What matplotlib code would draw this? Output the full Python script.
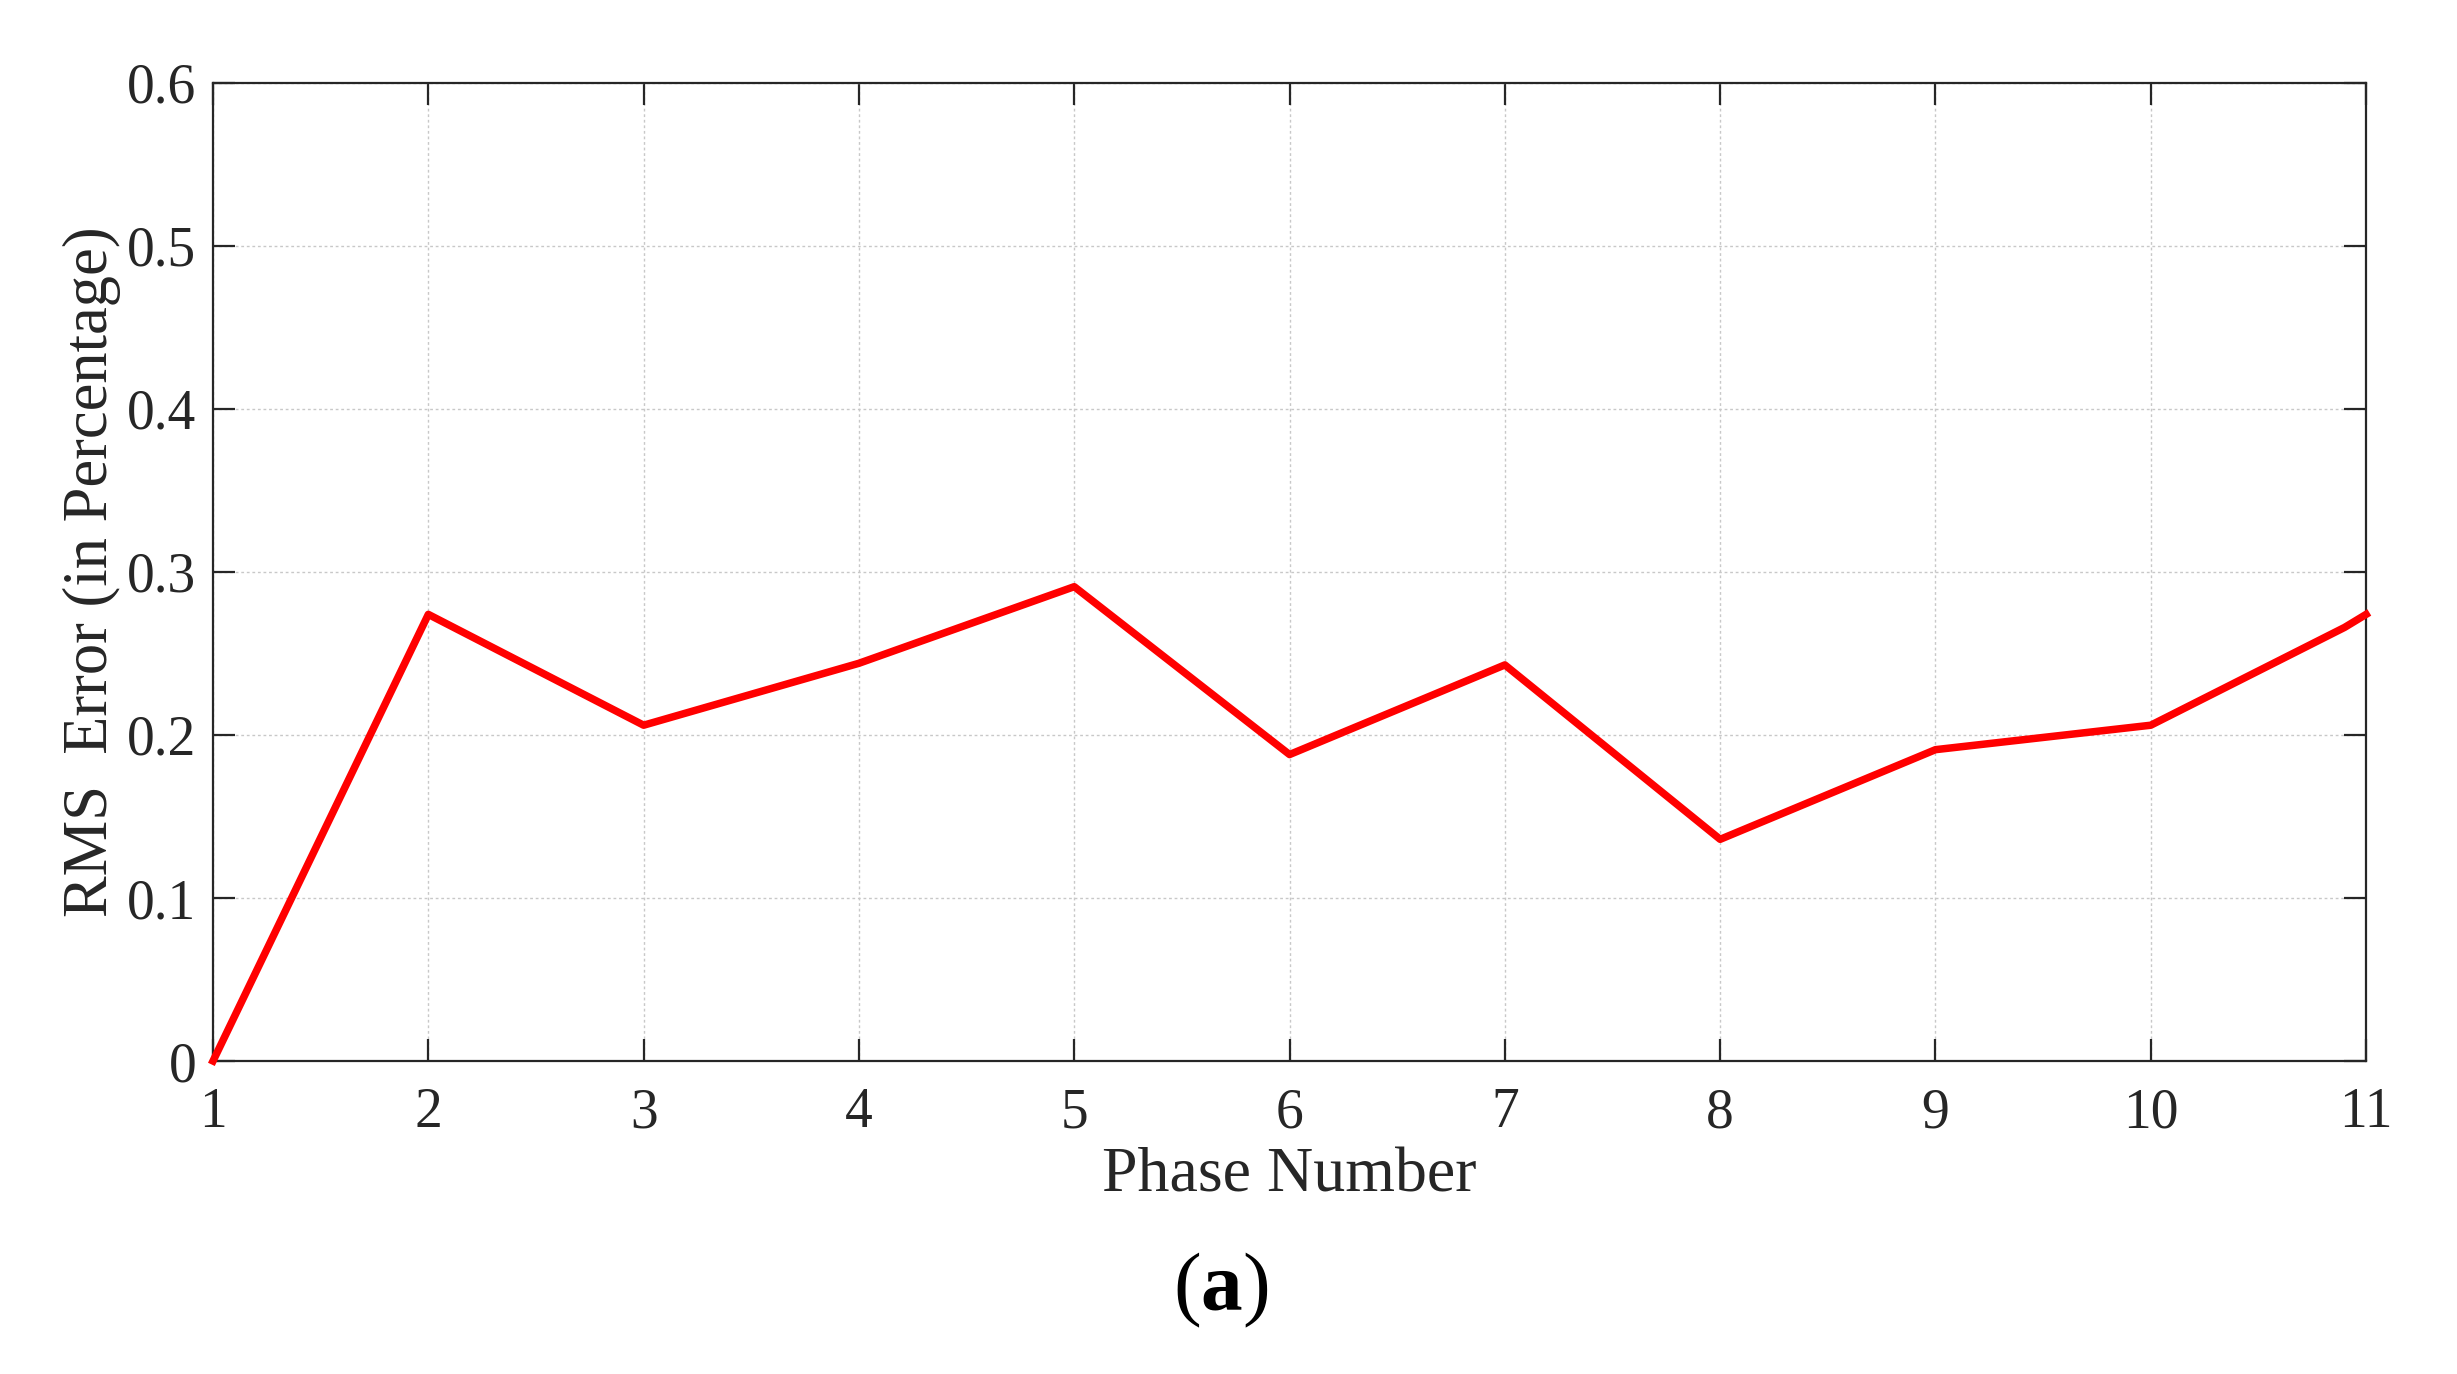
import matplotlib as mpl
mpl.use('Agg')
import matplotlib.pyplot as plt

# values
phase = [1, 2, 3, 4, 5, 6, 7, 8, 9, 10, 10.9, 11]
rms_err = [0.0, 0.274, 0.206, 0.244, 0.291, 0.188, 0.243, 0.136, 0.191, 0.206, 0.266, 0.274]
xticks = list(range(1, 12))
yticks = [0, 0.1, 0.2, 0.3, 0.4, 0.5, 0.6]
ytick_labels = ['0', '0.1', '0.2', '0.3', '0.4', '0.5', '0.6']

fnt = 'Liberation Serif'
plt.rcParams['font.family'] = fnt
plt.rcParams['mathtext.fontset'] = 'custom'
plt.rcParams['mathtext.rm'] = fnt
plt.rcParams['mathtext.bf'] = fnt + ':bold'

ink = '#262626'

fig = plt.figure(figsize=(24.57, 13.74), dpi=100, facecolor='white')
ax = fig.add_axes([0.0867, 0.2278, 0.8763, 0.7118])

ax.plot(phase, rms_err, '-', color='#ff0000', lw=5.4, zorder=3, clip_on=False)

ax.set_xlim(1, 11)
ax.set_ylim(0, 0.6)
ax.set_xticks(xticks)
ax.set_yticks(yticks)
ax.set_yticklabels(ytick_labels)

ax.grid(True, color='#c8c8c8', linestyle=(0, (2, 2)), lw=1.0, zorder=0)
for s in ax.spines.values():
    s.set_color(ink)
    s.set_linewidth(1.6)

ax.tick_params(axis='both', direction='in', length=16, width=1.6, color=ink,
               labelcolor=ink, labelsize=40, top=True, right=True)
ax.tick_params(axis='y', pad=12)
ax.tick_params(axis='x', pad=19)

ax.set_xlabel('Phase Number', fontsize=46, color=ink, labelpad=6)
ax.set_ylabel('RMS  Error (in Percentage)', fontsize=45, color=ink, labelpad=4)

fig.text(0.497, 0.061, r'($\mathbf{a}$)', fontsize=60, ha='center', va='center', color='black')

plt.savefig('out.png', dpi=100, facecolor=fig.get_facecolor())
